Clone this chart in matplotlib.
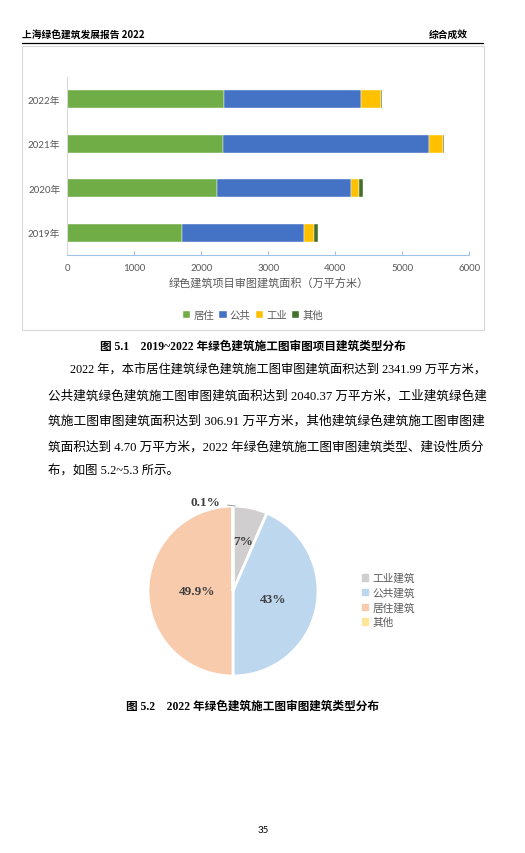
import numpy as np
import matplotlib.pyplot as plt
from matplotlib.patches import Rectangle, Patch
from matplotlib.lines import Line2D

W, H = 525, 854

# bar chart data (万平方米)
years = ['2019年', '2020年', '2021年', '2022年']
residential = [1712, 2239, 2324, 2341.99]
public = [1816, 1995, 3070, 2040.37]
industrial = [149, 119, 218, 306.91]
other = [69, 54, 6, 4.70]
bar_names = ['居住', '公共', '工业', '其他']
bar_colors = ['#70AD47', '#4472C4', '#FFC000', '#44702D']
x_ticks = [0, 1000, 2000, 3000, 4000, 5000, 6000]

# pie chart data (2022)
pie_names = ['工业建筑', '公共建筑', '居住建筑', '其他']
pie_values = [306.91, 2040.37, 2341.99, 4.70]
pie_labels = ['7%', '43%', '49.9%', '0.1%']
pie_colors = ['#D0CECE', '#BDD7EE', '#F8CBAD', '#FFE699']

paragraph = [
    '2022 年，本市居住建筑绿色建筑施工图审图建筑面积达到 2341.99 万平方米，',
    '公共建筑绿色建筑施工图审图建筑面积达到 2040.37 万平方米，工业建筑绿色建',
    '筑施工图审图建筑面积达到 306.91 万平方米，其他建筑绿色建筑施工图审图建',
    '筑面积达到 4.70 万平方米，2022 年绿色建筑施工图审图建筑类型、建设性质分',
    '布，如图 5.2~5.3 所示。',
]

CJK = ['Noto Sans CJK SC']
SERIF = ['Liberation Serif', 'Noto Sans CJK SC']
CHART = ['Lato', 'Noto Sans CJK SC']
GRAY = '#595959'


def fx(x):
    return x / W


def fy(y):
    return 1 - y / H


fig = plt.figure(figsize=(W / 100, H / 100), dpi=100)
renderer = fig.canvas.get_renderer()

# page header
fig.text(fx(22), fy(35), '上海绿色建筑发展报告 2022', family=CJK, weight='bold',
         fontsize=7, va='center')
fig.text(fx(468), fy(35), '综合成效', family=CJK, weight='bold', fontsize=7,
         va='center', ha='right')
fig.add_artist(Line2D([fx(22), fx(483)], [fy(43.5), fy(43.5)], color='black', lw=0.9))

# chart frame
fig.add_artist(Rectangle((fx(22), fy(331)), fx(484) - fx(22), (331 - 47) / H,
                         fill=False, edgecolor='#D9D9D9', lw=0.8))

# stacked bars
ax = fig.add_axes([fx(67.3), fy(256), (469.3 - 67.3) / W, (256 - 78) / H])
y = np.arange(len(years))
left = np.zeros(len(years))
for vals, color, name in zip([residential, public, industrial, other], bar_colors, bar_names):
    ax.barh(y, vals, left=left, height=0.4, color=color, label=name,
            edgecolor='white', linewidth=0.3)
    left += np.array(vals)

ax.set_xlim(0, 6000)
ax.set_ylim(-0.5, 3.5)
ax.set_xticks(x_ticks)
ax.set_yticks(y, years)
for s in ['top', 'right']:
    ax.spines[s].set_visible(False)
ax.spines['left'].set_color('#D9D9D9')
ax.spines['bottom'].set_color('#9DC3E6')
ax.tick_params(axis='y', length=0, pad=5, labelsize=7, labelcolor=GRAY)
ax.tick_params(axis='x', direction='in', length=3, color='#9DC3E6', labelsize=7,
               labelcolor=GRAY, pad=6)
for lab in ax.get_xticklabels() + ax.get_yticklabels():
    lab.set_family(CHART)
ax.set_xlabel('绿色建筑项目审图建筑面积（万平方米）', family=CJK, fontsize=8,
              color=GRAY, labelpad=4)

handles, labels = ax.get_legend_handles_labels()
fig.legend(handles, labels, loc='center', bbox_to_anchor=(fx(253), fy(316)), ncol=4,
           frameon=False, prop={'family': CJK, 'size': 7.5}, handlelength=0.7,
           handleheight=0.7, handletextpad=0.3, columnspacing=0.5, labelcolor=GRAY)

fig.text(fx(253), fy(347), '图 5.1    2019~2022 年绿色建筑施工图审图项目建筑类型分布',
         family=SERIF, weight='bold', fontsize=8.4, ha='center', va='center')

# paragraph: full lines stretched to the right margin
line_y = [370, 396, 421, 447, 472]
right_edge = 486
base_size = 8.9
for i, (txt, yy) in enumerate(zip(paragraph, line_y)):
    x0 = 70 if i == 0 else 48
    t = fig.text(fx(x0), fy(yy), txt, family=SERIF, fontsize=base_size, va='center')
    if i < len(paragraph) - 1:
        width = t.get_window_extent(renderer).width
        t.set_fontsize(base_size * (right_edge - x0) / width)

# pie chart
pax = fig.add_axes([fx(148), fy(677), 170 / W, 170 / H])
wedges, _ = pax.pie(pie_values, colors=pie_colors, startangle=90, counterclock=False,
                    wedgeprops=dict(edgecolor='white', linewidth=2))
pax.set_xlim(-1, 1)
pax.set_ylim(-1, 1)
pax.set_aspect('equal')

label_r = [0.6, 0.48, 0.42]
for w, txt, r in zip(wedges[:3], pie_labels[:3], label_r):
    th = np.deg2rad((w.theta1 + w.theta2) / 2)
    pax.text(r * np.cos(th), r * np.sin(th), txt, ha='center', va='center',
             family=SERIF, weight='bold', fontsize=9.5, color='#404040')
w = wedges[3]
th = np.deg2rad((w.theta1 + w.theta2) / 2)
th_lab = th + np.deg2rad(17)
pax.annotate(pie_labels[3], xy=(0.03 + np.cos(th), np.sin(th)),
             xytext=(1.09 * np.cos(th_lab), 1.09 * np.sin(th_lab)),
             ha='center', va='center', family=SERIF, weight='bold', fontsize=9.5,
             color='#404040', annotation_clip=False,
             arrowprops=dict(arrowstyle='-', color='#8C8C8C', lw=0.6,
                             shrinkA=3, shrinkB=0))

pie_handles = [Patch(color=c, label=n) for c, n in zip(pie_colors, pie_names)]
fig.legend(handles=pie_handles, loc='center left', bbox_to_anchor=(fx(352), fy(601)),
           frameon=False, prop={'family': CJK, 'size': 7.7}, handlelength=0.6,
           handleheight=0.6, handletextpad=0.4, labelspacing=0.42, labelcolor=GRAY)

fig.text(fx(252), fy(707), '图 5.2    2022 年绿色建筑施工图审图建筑类型分布',
         family=SERIF, weight='bold', fontsize=8.4, ha='center', va='center')

fig.text(fx(263), fy(831), '35', family=CHART, fontsize=7, ha='center', va='center')

fig.savefig('out.png', dpi=100)
